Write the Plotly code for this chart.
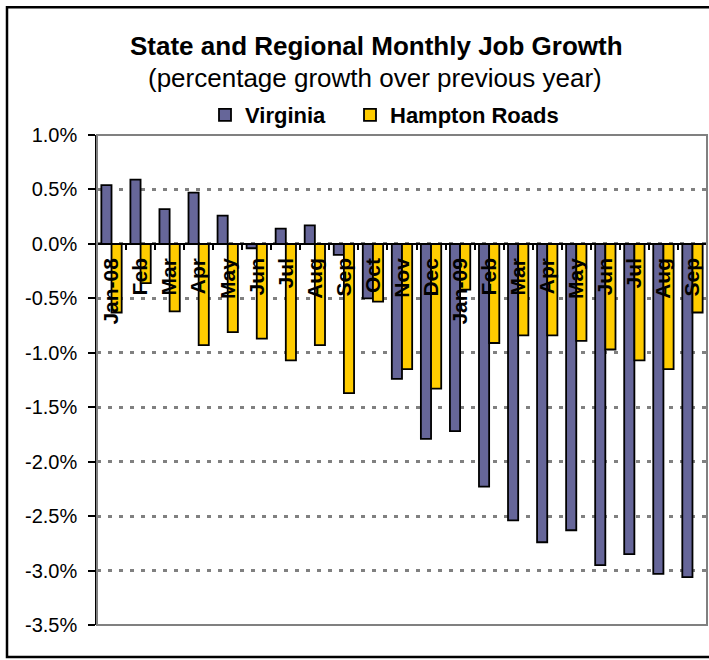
import plotly.graph_objects as go

# ---- data ----
month_keys = ["Jan-08", "Feb-08", "Mar-08", "Apr-08", "May-08", "Jun-08", "Jul-08",
              "Aug-08", "Sep-08", "Oct-08", "Nov-08", "Dec-08", "Jan-09", "Feb-09",
              "Mar-09", "Apr-09", "May-09", "Jun-09", "Jul-09", "Aug-09", "Sep-09"]
tick_labels = ["Jan-08", "Feb", "Mar", "Apr", "May", "Jun", "Jul", "Aug", "Sep", "Oct",
               "Nov", "Dec", "Jan-09", "Feb", "Mar", "Apr", "May", "Jun", "Jul", "Aug", "Sep"]
virginia = [0.54, 0.59, 0.32, 0.47, 0.26, -0.04, 0.14, 0.17, -0.10, -0.50, -1.24,
            -1.79, -1.72, -2.23, -2.54, -2.74, -2.63, -2.95, -2.85, -3.03, -3.06]
hampton_roads = [-0.63, -0.36, -0.62, -0.93, -0.81, -0.87, -1.07, -0.93, -1.37, -0.53, -1.15,
                 -1.33, -0.42, -0.91, -0.84, -0.84, -0.89, -0.97, -1.07, -1.15, -0.63]
y_tickvals = [1.0, 0.5, 0.0, -0.5, -1.0, -1.5, -2.0, -2.5, -3.0, -3.5]
y_ticktext = ["1.0%", "0.5%", "0.0%", "-0.5%", "-1.0%", "-1.5%", "-2.0%", "-2.5%", "-3.0%", "-3.5%"]
y_min, y_max = -3.5, 1.0

FONT = "Liberation Sans, Arial, sans-serif"

W, H = 709, 660
L, R, T, B = 97, 2, 134.5, 35
pw, ph = W - L - R, H - T - B

def px_to_paper_x(px):
    return (px - L) / pw

def px_to_paper_y(py):
    return (H - B - py) / ph

fig = go.Figure()
fig.add_trace(go.Bar(name="Virginia", x=month_keys, y=virginia, legend="legend",
                     marker=dict(color="#666699", line=dict(color="black", width=1.8))))
fig.add_trace(go.Bar(name="Hampton Roads", x=month_keys, y=hampton_roads, legend="legend2",
                     marker=dict(color="#FFCC00", line=dict(color="black", width=1.8))))

zero_pos = (0 - y_min) / (y_max - y_min)

legend_common = dict(orientation="h", xanchor="left", yanchor="middle",
                     y=px_to_paper_y(114.5),
                     font=dict(family=FONT, size=22, weight="bold", color="black"),
                     bgcolor="rgba(0,0,0,0)", itemwidth=30)

fig.update_layout(
    width=W, height=H,
    margin=dict(l=L, r=R, t=T, b=B, pad=0),
    paper_bgcolor="white", plot_bgcolor="white",
    barmode="group", bargap=0.3, bargroupgap=0,
    font=dict(family=FONT, color="black"),
    showlegend=True,
    legend=dict(x=px_to_paper_x(205), **legend_common),
    legend2=dict(x=px_to_paper_x(350), **legend_common),
    xaxis=dict(type="category", categoryorder="array", categoryarray=month_keys,
               tickmode="array", tickvals=month_keys, ticktext=tick_labels,
               tickangle=-90, tickson="boundaries",
               ticks="outside", ticklen=5, tickwidth=1.5, tickcolor="black",
               showline=True, linecolor="black", linewidth=1.5,
               anchor="free", position=zero_pos,
               tickfont=dict(family=FONT, size=21, weight="bold", color="black"),
               ticklabelstandoff=5,
               showgrid=False, zeroline=False),
    yaxis=dict(range=[y_min, y_max], tickmode="array", tickvals=y_tickvals,
               ticktext=y_ticktext,
               ticks="outside", ticklen=7, tickwidth=1.5, tickcolor="black",
               showline=True, linecolor="black", linewidth=1.5,
               showgrid=True, gridcolor="#808080", gridwidth=2.5, griddash="4px,7px",
               zeroline=False,
               tickfont=dict(family=FONT, size=20, color="black"),
               ticklabelstandoff=7),
    annotations=[
        dict(text="<b>State and Regional Monthly Job Growth</b>", xref="paper", yref="paper",
             x=px_to_paper_x(376), y=px_to_paper_y(45), xanchor="center", yanchor="middle",
             showarrow=False, font=dict(family=FONT, size=26, color="black")),
        dict(text="(percentage growth over previous year)", xref="paper", yref="paper",
             x=px_to_paper_x(375), y=px_to_paper_y(77), xanchor="center", yanchor="middle",
             showarrow=False, font=dict(family=FONT, size=26, color="black")),
    ],
    shapes=[
        # plot area border (gray)
        dict(type="rect", xref="paper", yref="paper", x0=0, x1=1, y0=0, y1=1,
             line=dict(color="#808080", width=2), layer="above"),
        # outer chart frame
        dict(type="rect", xref="paper", yref="paper",
             x0=px_to_paper_x(7), x1=px_to_paper_x(714),
             y0=px_to_paper_y(657), y1=px_to_paper_y(6.5),
             line=dict(color="black", width=2.5), layer="above"),
    ],
)

fig.write_html("out.html", config={"displayModeBar": False},
               post_script="document.body.style.margin='0';document.body.style.overflow='hidden';")
